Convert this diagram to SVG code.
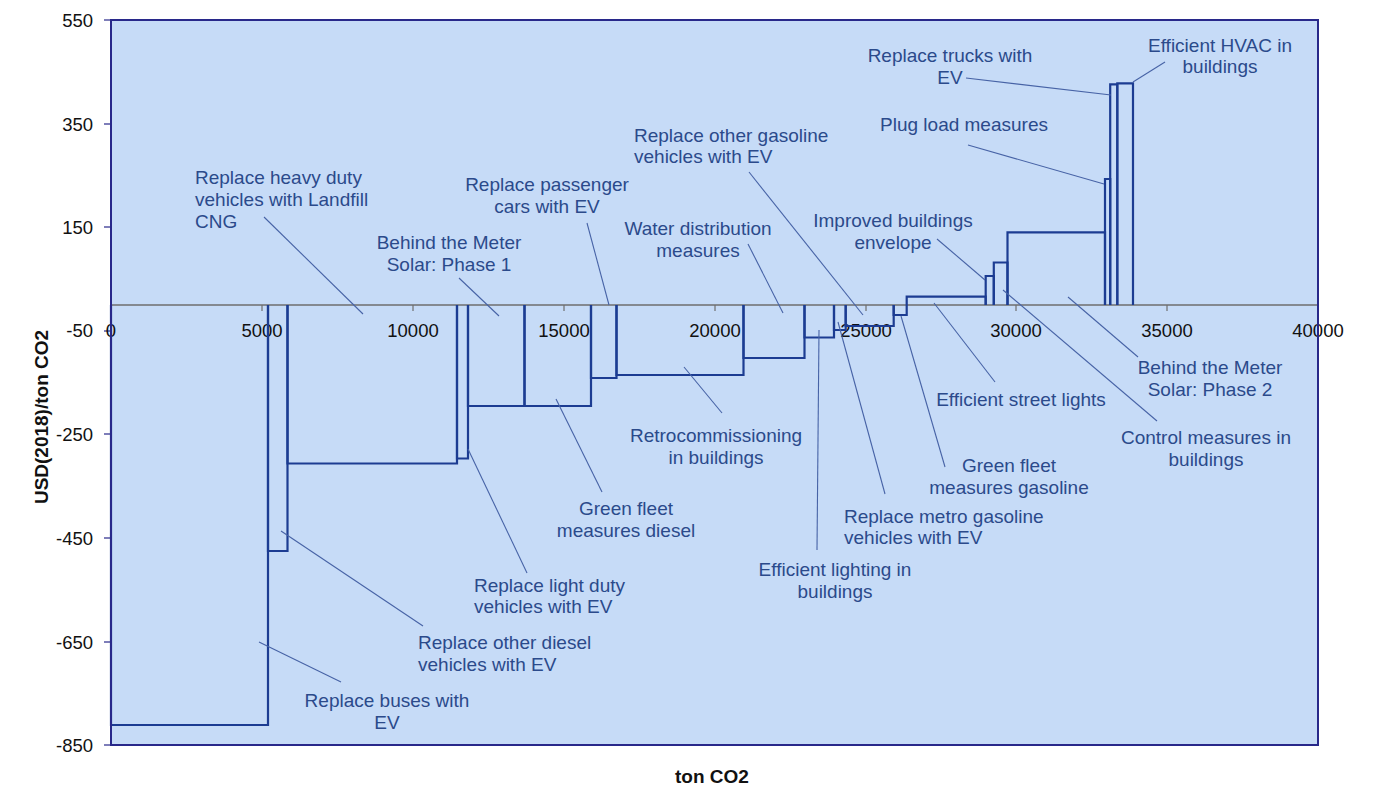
<svg xmlns="http://www.w3.org/2000/svg" width="1373" height="787" viewBox="0 0 1373 787">
<style>
.bg{fill:#ffffff}
.plot{fill:#C6DBF7;stroke:none}
.frame{fill:none;stroke:#28288a;stroke-width:2}
.axis0{fill:none;stroke:#6e6e6e;stroke-width:1.5}
.tick{stroke:#6e6e6e;stroke-width:1.2}
.ytick{stroke:#28288a;stroke-width:1.2}
.bar{fill:none;stroke:#1c3c92;stroke-width:2.2;stroke-linejoin:miter}
.lead{stroke:#4763a6;stroke-width:1.1;fill:none}
.lbl{font-family:"Liberation Sans",Arial,sans-serif;font-size:19px;fill:#2b4a8b}
.c{text-anchor:middle}
.num{font-family:"Liberation Sans",Arial,sans-serif;font-size:18.5px;fill:#111}
.ttl{font-family:"Liberation Sans",Arial,sans-serif;font-size:19px;font-weight:bold;fill:#111;text-anchor:middle}
</style>
<rect class="bg" x="0" y="0" width="1373" height="787"/>
<g id="plot-area">
<rect class="plot" x="111" y="20" width="1207" height="725"/>
</g>
<g id="axes">
<line class="axis0" x1="111" y1="305" x2="1318" y2="305"/>
<g>
<line class="tick" x1="262" y1="305" x2="262" y2="311"/>
<line class="tick" x1="413" y1="305" x2="413" y2="311"/>
<line class="tick" x1="564" y1="305" x2="564" y2="311"/>
<line class="tick" x1="715" y1="305" x2="715" y2="311"/>
<line class="tick" x1="866" y1="305" x2="866" y2="311"/>
<line class="tick" x1="1016" y1="305" x2="1016" y2="311"/>
<line class="tick" x1="1167" y1="305" x2="1167" y2="311"/>
</g>
<g>
<line class="ytick" x1="104" y1="20" x2="111" y2="20"/>
<line class="ytick" x1="104" y1="124" x2="111" y2="124"/>
<line class="ytick" x1="104" y1="227" x2="111" y2="227"/>
<line class="ytick" x1="104" y1="331" x2="111" y2="331"/>
<line class="ytick" x1="104" y1="434" x2="111" y2="434"/>
<line class="ytick" x1="104" y1="538" x2="111" y2="538"/>
<line class="ytick" x1="104" y1="642" x2="111" y2="642"/>
<line class="ytick" x1="104" y1="745" x2="111" y2="745"/>
</g>
<g text-anchor="end">
<text class="num" x="93" y="27">550</text>
<text class="num" x="93" y="131">350</text>
<text class="num" x="93" y="234">150</text>
<text class="num" x="93" y="337">-50</text>
<text class="num" x="93" y="441">-250</text>
<text class="num" x="93" y="545">-450</text>
<text class="num" x="93" y="649">-650</text>
<text class="num" x="93" y="752">-850</text>
</g>
<g text-anchor="middle">
<text class="num" x="111" y="337">0</text>
<text class="num" x="262" y="337">5000</text>
<text class="num" x="413" y="337">10000</text>
<text class="num" x="564" y="337">15000</text>
<text class="num" x="715" y="337">20000</text>
<text class="num" x="866" y="337">25000</text>
<text class="num" x="1016" y="337">30000</text>
<text class="num" x="1167" y="337">35000</text>
<text class="num" x="1318" y="337">40000</text>
</g>
<text class="ttl" transform="translate(48,417) rotate(-90)">USD(2018)/ton CO2</text>
<text class="ttl" x="712" y="783">ton CO2</text>
</g>
<g id="bars">
<g id="m-buses"><path class="bar" d="M111,305 V725 H268 V305"/></g>
<g id="m-other-diesel"><path class="bar" d="M268,305 V551 H287.5 V305"/></g>
<g id="m-heavy-duty"><path class="bar" d="M287.5,305 V463.5 H457 V305"/></g>
<g id="m-light-duty"><path class="bar" d="M457,305 V458.5 H468 V305"/></g>
<g id="m-btm-1"><path class="bar" d="M468,305 V406 H524.5 V305"/></g>
<g id="m-green-diesel"><path class="bar" d="M524.5,305 V406 H591 V305"/></g>
<g id="m-passenger"><path class="bar" d="M591,305 V378 H616.5 V305"/></g>
<g id="m-retro"><path class="bar" d="M616.5,305 V375 H743.5 V305"/></g>
<g id="m-water"><path class="bar" d="M743.5,305 V358 H804.5 V305"/></g>
<g id="m-eff-lighting"><path class="bar" d="M804.5,305 V337.5 H834 V305"/></g>
<g id="m-metro"><path class="bar" d="M834,305 V330 H845.7 V305"/></g>
<g id="m-other-gasoline"><path class="bar" d="M845.7,305 V326 H893.7 V305"/></g>
<g id="m-green-gasoline"><path class="bar" d="M893.7,305 V315 H906.7 V305"/></g>
<g id="m-street"><path class="bar" d="M906.7,305 V296.7 H985.7 V305"/></g>
<g id="m-envelope"><path class="bar" d="M985.7,305 V276 H993.8 V305"/></g>
<g id="m-control"><path class="bar" d="M993.8,305 V262.5 H1007.5 V305"/></g>
<g id="m-btm-2"><path class="bar" d="M1007.5,305 V232.3 H1105 V305"/></g>
<g id="m-plug"><path class="bar" d="M1105,305 V179 H1110.2 V305"/></g>
<g id="m-trucks"><path class="bar" d="M1110.2,305 V84.3 H1117.3 V305"/></g>
<g id="m-hvac"><path class="bar" d="M1117.3,305 V83.3 H1133 V305"/></g>
</g>
<g id="connectors">
<line class="lead" x1="264" y1="217" x2="363" y2="314"/>
<line class="lead" x1="459" y1="278" x2="499" y2="316"/>
<line class="lead" x1="587" y1="223" x2="609" y2="305"/>
<line class="lead" x1="749" y1="172" x2="863" y2="315"/>
<line class="lead" x1="748" y1="244" x2="783" y2="313"/>
<line class="lead" x1="937" y1="239" x2="985" y2="280"/>
<line class="lead" x1="1003" y1="290" x2="1157" y2="421"/>
<line class="lead" x1="1068" y1="297" x2="1138" y2="357"/>
<line class="lead" x1="968" y1="145" x2="1104" y2="184"/>
<line class="lead" x1="966" y1="78" x2="1111" y2="95"/>
<line class="lead" x1="1165" y1="62" x2="1133" y2="82"/>
<line class="lead" x1="934" y1="303" x2="995" y2="382"/>
<line class="lead" x1="901" y1="316" x2="945" y2="467"/>
<line class="lead" x1="838" y1="322" x2="885" y2="494"/>
<line class="lead" x1="819" y1="330" x2="817" y2="550"/>
<line class="lead" x1="684" y1="367" x2="722" y2="413"/>
<line class="lead" x1="556" y1="399" x2="602" y2="492"/>
<line class="lead" x1="468" y1="449" x2="527" y2="573"/>
<line class="lead" x1="281" y1="531" x2="423" y2="626"/>
<line class="lead" x1="259" y1="642" x2="341" y2="682"/>
</g>
<g id="labels">
<g id="l-heavy-duty"><text class="lbl" x="195" y="184">Replace heavy duty</text><text class="lbl" x="195" y="206">vehicles with Landfill</text><text class="lbl" x="195" y="228">CNG</text></g>
<g id="l-btm-1"><text class="lbl c" x="449" y="249">Behind the Meter</text><text class="lbl c" x="449" y="271">Solar: Phase 1</text></g>
<g id="l-passenger"><text class="lbl c" x="547" y="191">Replace passenger</text><text class="lbl c" x="547" y="213">cars with EV</text></g>
<g id="l-other-gasoline"><text class="lbl" x="634" y="142">Replace other gasoline</text><text class="lbl" x="634" y="163">vehicles with EV</text></g>
<g id="l-water"><text class="lbl c" x="698" y="235">Water distribution</text><text class="lbl c" x="698" y="257">measures</text></g>
<g id="l-envelope"><text class="lbl c" x="893" y="227">Improved buildings</text><text class="lbl c" x="893" y="249">envelope</text></g>
<g id="l-plug"><text class="lbl c" x="964" y="131">Plug load measures</text></g>
<g id="l-trucks"><text class="lbl c" x="950" y="62">Replace trucks with</text><text class="lbl c" x="950" y="84">EV</text></g>
<g id="l-hvac"><text class="lbl c" x="1220" y="52">Efficient HVAC in</text><text class="lbl c" x="1220" y="73">buildings</text></g>
<g id="l-btm-2"><text class="lbl c" x="1210" y="374">Behind the Meter</text><text class="lbl c" x="1210" y="396">Solar: Phase 2</text></g>
<g id="l-control"><text class="lbl c" x="1206" y="444">Control measures in</text><text class="lbl c" x="1206" y="466">buildings</text></g>
<g id="l-street"><text class="lbl c" x="1021" y="406">Efficient street lights</text></g>
<g id="l-green-gasoline"><text class="lbl c" x="1009" y="472">Green fleet</text><text class="lbl c" x="1009" y="494">measures gasoline</text></g>
<g id="l-metro"><text class="lbl" x="844" y="523">Replace metro gasoline</text><text class="lbl" x="844" y="544">vehicles with EV</text></g>
<g id="l-eff-lighting"><text class="lbl c" x="835" y="576">Efficient lighting in</text><text class="lbl c" x="835" y="598">buildings</text></g>
<g id="l-retro"><text class="lbl c" x="716" y="442">Retrocommissioning</text><text class="lbl c" x="716" y="464">in buildings</text></g>
<g id="l-green-diesel"><text class="lbl c" x="626" y="515">Green fleet</text><text class="lbl c" x="626" y="537">measures diesel</text></g>
<g id="l-light-duty"><text class="lbl" x="474" y="592">Replace light duty</text><text class="lbl" x="474" y="613">vehicles with EV</text></g>
<g id="l-other-diesel"><text class="lbl" x="418" y="649">Replace other diesel</text><text class="lbl" x="418" y="671">vehicles with EV</text></g>
<g id="l-buses"><text class="lbl c" x="387" y="707">Replace buses with</text><text class="lbl c" x="387" y="729">EV</text></g>
</g>
<g id="frame">
<rect class="frame" x="111" y="20" width="1207" height="725"/>
</g>
</svg>
